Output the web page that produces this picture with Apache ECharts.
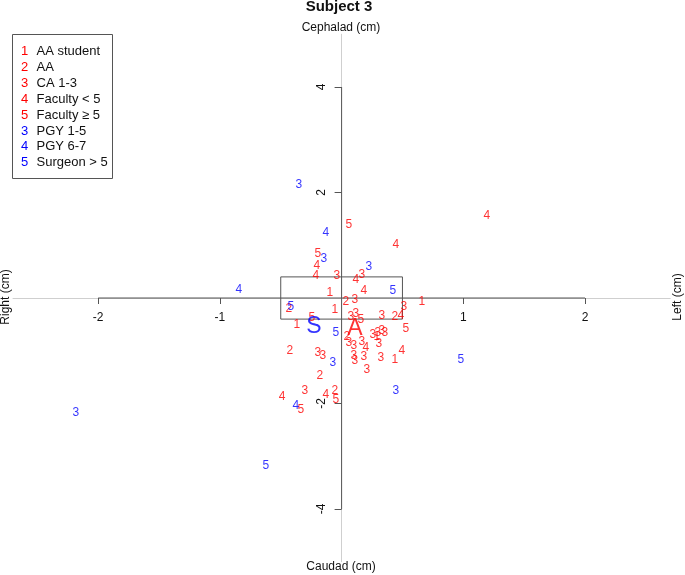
<!DOCTYPE html>
<html>
<head>
<meta charset="utf-8">
<script src="https://cdn.jsdelivr.net/npm/echarts@6/dist/echarts.min.js"></script>
<style>html,body{margin:0;padding:0;background:#fff;}#c{width:685px;height:575px;}</style>
</head>
<body>
<div id="c"></div>
<script>
// ---- data ----
const legendDigits = ['1','2','3','4','5','3','4','5'];
const legendLabels = ['AA student','AA','CA 1-3','Faculty < 5','Faculty \u2265 5','PGY 1-5','PGY 6-7','Surgeon > 5'];
const groupColors = ['#ff0000','#ff0000','#ff0000','#ff0000','#ff0000','#0000ff','#0000ff','#0000ff'];

const aaStudent = [[-0.096,0.095],[0.66,-0.076],[-0.055,-0.227],[-0.367,-0.512],[0.29,-0.74],[0.438,-1.175]];
const aa = [[0.035,-0.076],[-0.433,-0.208],[0.438,-0.36],[0.044,-0.74],[-0.425,-1.005],[-0.178,-1.465],[-0.055,-1.75]];
const ca13 = [[-0.039,0.417],[0.166,0.436],[0.109,-0.038],[0.512,-0.17],[0.076,-0.36],[0.117,-0.30],[0.331,-0.34],
  [0.257,-0.70],[0.298,-0.66],[0.331,-0.626],[0.356,-0.66],[0.306,-0.87],[0.06,-0.853],[0.101,-0.91],[0.166,-0.834],
  [0.101,-1.10],[0.109,-1.19],[0.183,-1.118],[0.323,-1.137],[0.208,-1.365],[-0.195,-1.043],[-0.154,-1.10],[-0.302,-1.763]];
const facultyLt5 = [[1.193,1.555],[0.446,1.005],[-0.203,0.607],[-0.211,0.417],[0.117,0.341],[0.183,0.133],[0.487,-0.34],
  [0.2,-0.948],[0.495,-1.005],[-0.49,-1.877],[-0.129,-1.839]];
const facultyGe5 = [[0.06,1.384],[-0.195,0.834],[-0.244,-0.38],[0.159,-0.417],[0.528,-0.588],[-0.047,-1.934],[-0.334,-2.123]];
const pgy15 = [[-0.351,2.142],[-0.145,0.739],[0.224,0.588],[-0.071,-1.232],[0.446,-1.763],[-2.184,-2.18]];
const pgy67 = [[-0.129,1.232],[-0.844,0.152],[-0.376,-2.047]];
const surgeonGt5 = [[0.422,0.133],[-0.417,-0.171],[-0.047,-0.664],[0.98,-1.175],[-0.622,-3.185]];
const groups = [aaStudent, aa, ca13, facultyLt5, facultyGe5, pgy15, pgy67, surgeonGt5];

const centroidS = [-0.228,-0.544];
const centroidA = [0.109,-0.575];
const boxCorners = [[-0.5,0.4],[0.5,0.4],[0.5,-0.4],[-0.5,-0.4],[-0.5,0.4]];
const xTicks = [-2,-1,1,2];
const yTicks = [-4,-2,2,4];
const xAxisSpan = [[-2,0],[2,0]];
const yAxisSpan = [[0,-4],[0,4]];

// ---- chart ----
const FONT = 'Liberation Sans, Arial, sans-serif';
const chart = echarts.init(document.getElementById('c'), null, {renderer:'canvas'});

const series = [];
series.push({type:'line', data:xAxisSpan, symbol:'none', silent:true, lineStyle:{color:'#555',width:1}, z:1});
series.push({type:'line', data:yAxisSpan, symbol:'none', silent:true, lineStyle:{color:'#555',width:1}, z:1});
series.push({type:'line', data:boxCorners, symbol:'none', silent:true, lineStyle:{color:'#555',width:1}, z:1});
groups.forEach((g,i)=>{
  series.push({
    type:'scatter', data:g, symbolSize:1, itemStyle:{color:'rgba(0,0,0,0)'}, z:3,
    label:{show:true, position:'inside', formatter:legendDigits[i], color:groupColors[i], fontSize:12, fontFamily:FONT}
  });
});
series.push({type:'scatter', data:[centroidS], symbolSize:1, itemStyle:{color:'rgba(0,0,0,0)'}, z:4,
  label:{show:true, position:'inside', formatter:'S', color:'#0000ff', fontSize:23, fontFamily:FONT}});
series.push({type:'scatter', data:[centroidA], symbolSize:1, itemStyle:{color:'rgba(0,0,0,0)'}, z:4,
  label:{show:true, position:'inside', formatter:'A', color:'#ff0000', fontSize:23, fontFamily:FONT}});

const graphics = [
  {type:'text', x:339, y:7, style:{text:'Subject 3', font:'bold 15px '+FONT, fill:'#111', textAlign:'center', textVerticalAlign:'middle'}},
  {type:'text', x:341, y:28, style:{text:'Cephalad (cm)', font:'12px '+FONT, fill:'#111', textAlign:'center', textVerticalAlign:'middle'}},
  {type:'text', x:341, y:567, style:{text:'Caudad (cm)', font:'12px '+FONT, fill:'#111', textAlign:'center', textVerticalAlign:'middle'}},
  {type:'text', x:6, y:297, rotation:Math.PI/2, style:{text:'Right (cm)', font:'12px '+FONT, fill:'#111', textAlign:'center', textVerticalAlign:'middle'}},
  {type:'text', x:678, y:297, rotation:Math.PI/2, style:{text:'Left (cm)', font:'12px '+FONT, fill:'#111', textAlign:'center', textVerticalAlign:'middle'}},
  {type:'rect', shape:{x:12.5, y:34.5, width:100, height:144}, style:{fill:'#fff', stroke:'#555', lineWidth:1}, z:10}
];
legendLabels.forEach((lab,i)=>{
  const yy = 51.7 + i*15.85;
  graphics.push({type:'text', x:24.5, y:yy, z:11, style:{text:legendDigits[i], font:'13px '+FONT, fill:groupColors[i], textAlign:'center', textVerticalAlign:'middle'}});
  graphics.push({type:'text', x:36.5, y:yy, z:11, style:{text:lab, font:'13px '+FONT, fill:'#111', textAlign:'left', textVerticalAlign:'middle'}});
});

const GRID = {left:13, top:34.25, width:657.2, height:527.5, containLabel:false, outerBoundsMode:'none'};
chart.setOption({
  animation:false,
  backgroundColor:'#fff',
  grid:GRID,
  xAxis:{type:'value', min:-2.7, max:2.7, position:'bottom', offset:0,
    axisLine:{show:true, onZero:false, lineStyle:{color:'#cfcfcf', width:1}},
    axisTick:{show:true, customValues:xTicks, length:6, lineStyle:{color:'#555'}},
    axisLabel:{show:true, customValues:xTicks, margin:14, color:'#111', fontSize:12, fontFamily:FONT},
    splitLine:{show:false}},
  yAxis:{type:'value', min:-5, max:5, position:'left', offset:0,
    axisLine:{show:true, onZero:false, lineStyle:{color:'#cfcfcf', width:1}},
    axisTick:{show:true, customValues:yTicks, length:7, lineStyle:{color:'#555'}},
    axisLabel:{show:true, customValues:yTicks, rotate:90, margin:14, color:'#111', fontSize:12, fontFamily:FONT},
    splitLine:{show:false}},
  series:series,
  graphic:graphics
});
// move both axes so they cross at the data origin (0,0), using the library's own scale
const origin = chart.convertToPixel({gridIndex:0}, [0,0]);
chart.setOption({
  xAxis:{offset: origin[1] - (GRID.top + GRID.height)},
  yAxis:{offset: GRID.left - origin[0]}
});
</script>
</body>
</html>
